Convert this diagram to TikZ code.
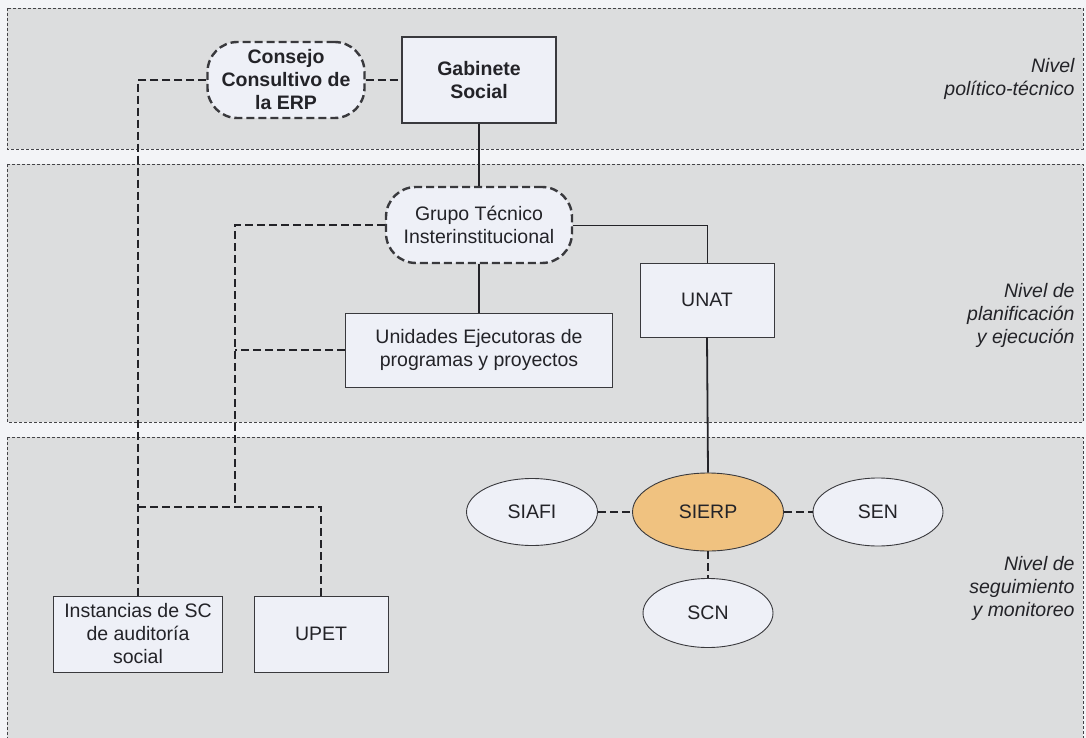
\documentclass[tikz,border=0pt]{standalone}
\usepackage{fontspec}
\setmainfont{Liberation Sans}
\usetikzlibrary{shapes.geometric}
\definecolor{gapcol}{RGB}{243,244,247}
\definecolor{bandcol}{RGB}{220,221,222}
\definecolor{nodecol}{RGB}{238,240,247}
\definecolor{sierpcol}{RGB}{240,194,128}
\definecolor{inkcol}{RGB}{35,35,40}
\tikzset{
  band/.style={draw=inkcol!85, dash pattern=on 3pt off 2pt, line width=0.8pt, fill=bandcol},
  txt/.style={font=\fontsize{19.5}{23}\selectfont, text=inkcol},
  plainbox/.style={txt, draw=inkcol!90, line width=0.9pt, fill=nodecol, align=center, inner sep=0pt},
  boldbox/.style={plainbox, font=\fontsize{19.5}{23}\selectfont\bfseries, line width=2.6pt},
  dashbox/.style={plainbox, rounded corners=30pt, dash pattern=on 8pt off 4pt, line width=2.4pt},
  ellnode/.style={txt, ellipse, draw=inkcol!90, line width=0.9pt, fill=nodecol, inner sep=0pt},
  conn/.style={draw=inkcol, line width=1.8pt},
  thinconn/.style={draw=inkcol, line width=1pt},
  dconn/.style={draw=inkcol, line width=2.4pt, dash pattern=on 8pt off 4pt},
  levellabel/.style={txt, font=\fontsize{19.5}{23}\selectfont\itshape, align=right, anchor=east}
}
\begin{document}
\begin{tikzpicture}[x=1pt,y=-1pt]
\useasboundingbox (0,0) rectangle (1086,738);
\clip (0,0) rectangle (1086,738);
\fill[gapcol] (0,0) rectangle (1086,738);
% bands
\draw[band] (7,8) rectangle (1083,149);
\draw[band] (7,164) rectangle (1083,422);
\draw[band] (7,437) rectangle (1083,750);
% level labels
\node[levellabel] (lv1) at (1078,79) {Nivel\\político-técnico};
\node[levellabel] (lv2) at (1078,315) {Nivel de\\planificación\\y ejecución};
\node[levellabel] (lv3) at (1078,588) {Nivel de\\seguimiento\\y monitoreo};
% nodes
\node[dashbox, font=\fontsize{19.5}{23}\selectfont\bfseries, minimum width=157pt, minimum height=76pt] (consejo) at (286,80) {Consejo\\Consultivo de\\la ERP};
\node[boldbox, minimum width=154pt, minimum height=86pt] (gabinete) at (479,80) {Gabinete\\Social};
\node[dashbox, minimum width=186pt, minimum height=76pt] (grupo) at (479,225) {Grupo Técnico\\Insterinstitucional};
\node[plainbox, minimum width=134pt, minimum height=74pt] (unat) at (707,300) {UNAT};
\node[plainbox, minimum width=267pt, minimum height=74pt] (unid) at (479,350) {Unidades Ejecutoras de\\programas y proyectos};
\node[plainbox, minimum width=169pt, minimum height=76pt] (inst) at (138,634) {Instancias de SC\\de auditoría\\social};
\node[plainbox, minimum width=134pt, minimum height=76pt] (upet) at (321,634) {UPET};
\node[ellnode, fill=sierpcol, minimum width=151pt, minimum height=78pt] (sierp) at (708,512) {SIERP};
\node[ellnode, minimum width=131pt, minimum height=67pt] (siafi) at (532,512) {SIAFI};
\node[ellnode, minimum width=130pt, minimum height=68pt] (sen) at (878,512) {SEN};
\node[ellnode, minimum width=130pt, minimum height=69pt] (scn) at (708,613) {SCN};
% junction coordinates
\coordinate (jm) at (235,507);
\coordinate (jl) at (138,507);
\coordinate (ju) at (235,350);
% connectors
\draw[dconn] (consejo.east) -- (gabinete.west);
\draw[dconn] (consejo.west) -| (inst.north);
\draw[conn] (gabinete.south) -- (grupo.north);
\draw[conn] (grupo.south) -- (unid.north);
\draw[thinconn] (grupo.east) -| (unat.north);
\draw[conn] (unat.south) -- (sierp.north);
\draw[dconn] (grupo.west) -| (jm);
\draw[dconn] (unid.west) -- (ju);
\draw[dconn] (jl) -| (upet.north);
\draw[dconn] (siafi.east) -- (sierp.west);
\draw[dconn] (sierp.east) -- (sen.west);
\draw[dconn] (sierp.south) -- (scn.north);
\end{tikzpicture}
\end{document}
